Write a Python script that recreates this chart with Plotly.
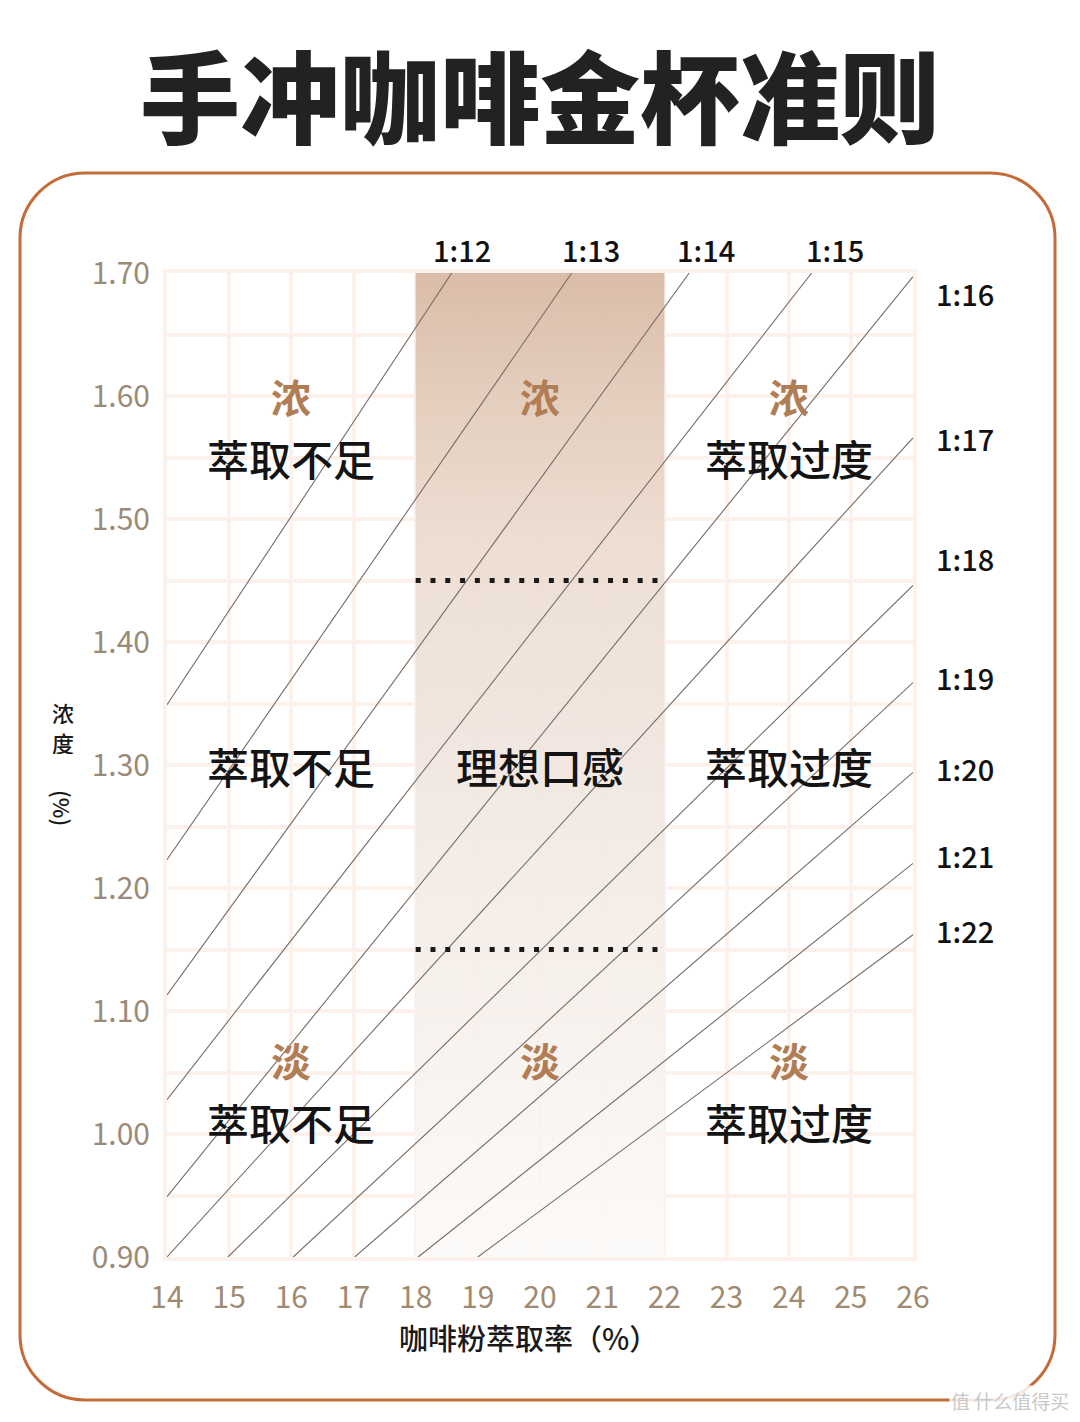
import plotly.graph_objects as go

# ---------------- data ----------------
x_ticks = [14, 15, 16, 17, 18, 19, 20, 21, 22, 23, 24, 25, 26]
y_ticks = [0.90, 1.00, 1.10, 1.20, 1.30, 1.40, 1.50, 1.60, 1.70]

ratio_labels = ["1:12", "1:13", "1:14", "1:15", "1:16", "1:17",
                "1:18", "1:19", "1:20", "1:21", "1:22"]
line_start_ey = [14, 14, 14, 14, 14, 14, 14.98, 16.03, 17.02, 18.04, 19.0]
line_start_tds = [1.349, 1.223, 1.113, 1.028, 0.949, 0.90, 0.90, 0.90, 0.90, 0.90, 0.90]
line_end_ey = [18.58, 20.51, 22.40, 24.37, 26, 26, 26, 26, 26, 26, 26]
line_end_tds = [1.70, 1.70, 1.70, 1.70, 1.697, 1.566, 1.446, 1.367, 1.294, 1.220, 1.162]

ideal_ey = [18, 22]          # extraction band
ideal_tds = [1.15, 1.45]     # strength band

zone_ey = [16, 20, 24]
zone_top_tds = [1.60, 1.55]
zone_mid_tds = 1.30
zone_bot_tds = [1.06, 1.01]

# ---------------- layout constants ----------------
WIN_W, WIN_H = 1080, 1422
OFF = 8                      # page body margin
L, R, T, B = 167, 913, 273, 1257
PW, PH = R - L, B - T
CJK = "Noto Sans CJK SC"


def paper(px, py):
    return (px - L) / PW, (B - py) / PH


fig = go.Figure()

# gradient band
fig.add_trace(go.Scatter(
    x=[ideal_ey[0], ideal_ey[1], ideal_ey[1], ideal_ey[0], ideal_ey[0]],
    y=[y_ticks[0], y_ticks[0], y_ticks[-1], y_ticks[-1], y_ticks[0]],
    mode="none", fill="toself", hoverinfo="skip", showlegend=False,
    fillgradient=dict(
        type="vertical", start=y_ticks[0], stop=y_ticks[-1],
        colorscale=[[0, "rgba(252,250,248,0.9)"], [0.3, "rgba(245,238,233,0.9)"],
                    [0.55, "rgba(239,228,220,0.92)"], [0.72, "rgba(236,220,208,0.92)"],
                    [0.87, "rgba(227,204,187,0.95)"], [1, "rgba(217,187,166,0.97)"]],
    ),
))

# ratio lines
for i in range(len(ratio_labels)):
    fig.add_trace(go.Scatter(
        x=[line_start_ey[i], line_end_ey[i]], y=[line_start_tds[i], line_end_tds[i]],
        mode="lines", line=dict(color="#776c66", width=1.1),
        hoverinfo="skip", showlegend=False,
    ))

# dotted band borders
for t in ideal_tds:
    fig.add_trace(go.Scatter(
        x=ideal_ey, y=[t, t], mode="lines",
        line=dict(color="#1a1a1a", width=5, dash="5px,9.8px"),
        hoverinfo="skip", showlegend=False,
    ))

ann = []
# ratio labels
right_yshift = {"1:16": -16, "1:17": 0, "1:18": 27, "1:19": 6, "1:20": 4, "1:21": 8, "1:22": 5}
top_xshift = {"1:12": 10, "1:13": 19, "1:14": 17, "1:15": 23}
for i, lab in enumerate(ratio_labels):
    if lab in top_xshift:
        ann.append(dict(x=line_end_ey[i], y=line_end_tds[i], xref="x", yref="y", text=lab,
                        showarrow=False, xshift=top_xshift[lab], yshift=24,
                        font=dict(family=CJK, size=29, color="#111111", weight=500)))
    else:
        ann.append(dict(x=line_end_ey[i], y=line_end_tds[i], xref="x", yref="y", text=lab,
                        showarrow=False, xshift=52, yshift=right_yshift[lab],
                        font=dict(family=CJK, size=29, color="#111111", weight=500)))

# zone texts
strong_c = "#b07d55"
for j, ex in enumerate(zone_ey):
    ann.append(dict(x=ex, y=zone_top_tds[0], text="浓", showarrow=False,
                    font=dict(family=CJK, size=40, color=strong_c, weight=700)))
    ann.append(dict(x=ex, y=zone_bot_tds[0], text="淡", showarrow=False,
                    font=dict(family=CJK, size=40, color=strong_c, weight=700)))
zone_words = ["萃取不足", "理想口感", "萃取过度"]
for j, ex in enumerate(zone_ey):
    if j != 1:
        ann.append(dict(x=ex, y=zone_top_tds[1], text=zone_words[j], showarrow=False,
                        font=dict(family=CJK, size=42, color="#141414", weight=500)))
        ann.append(dict(x=ex, y=zone_bot_tds[1], text=zone_words[j], showarrow=False,
                        font=dict(family=CJK, size=42, color="#141414", weight=500)))
    ann.append(dict(x=ex, y=zone_mid_tds, text=zone_words[j], showarrow=False,
                    font=dict(family=CJK, size=42, color="#141414", weight=500)))


def pann(px, py, text, font, **kw):
    a, b = paper(px, py)
    d = dict(x=a, y=b, xref="paper", yref="paper", text=text, showarrow=False,
             xanchor="center", yanchor="middle", font=font)
    d.update(kw)
    ann.append(d)


# title
pann(540, 92, "手冲咖啡金杯准则", dict(family=CJK, size=100, color="#222222", weight=900))
# axis titles
pann(528, 1337, "咖啡粉萃取率（%）", dict(family=CJK, size=29, color="#1a1a1a", weight=500))
pann(63, 712, "浓", dict(family=CJK, size=22, color="#1a1a1a", weight=500), height=24)
pann(63, 742, "度", dict(family=CJK, size=22, color="#1a1a1a", weight=500), height=24)
pann(63, 808, "(%)", dict(family=CJK, size=22, color="#1a1a1a", weight=500), textangle=90)
# watermark
pann(1010, 1400, "值 什么值得买", dict(family=CJK, size=19, color="#c9c9c9"),
     bgcolor="rgba(255,255,255,0.85)")

# rounded border
bl, br_, bt, bb, r = 20, 1055, 173, 1400, 65
k = 0.55 * r


def P(px, py):
    a, b = paper(px, py)
    return f"{a:.5f},{b:.5f}"


path = (f"M {P(bl + r, bt)} L {P(br_ - r, bt)} C {P(br_ - r + k, bt)} {P(br_, bt + r - k)} {P(br_, bt + r)} "
        f"L {P(br_, bb - r)} C {P(br_, bb - r + k)} {P(br_ - r + k, bb)} {P(br_ - r, bb)} "
        f"L {P(bl + r, bb)} C {P(bl + r - k, bb)} {P(bl, bb - r + k)} {P(bl, bb - r)} "
        f"L {P(bl, bt + r)} C {P(bl, bt + r - k)} {P(bl + r - k, bt)} {P(bl + r, bt)} Z")

GRID = "#fdf1ec"
fig.update_layout(
    width=WIN_W - OFF, height=WIN_H - OFF,
    margin=dict(l=L - OFF, r=WIN_W - R, t=T - OFF, b=WIN_H - B),
    paper_bgcolor="white", plot_bgcolor="white",
    showlegend=False,
    annotations=ann,
    shapes=[dict(type="path", xref="paper", yref="paper", path=path,
                 line=dict(color="#c46b3a", width=3), layer="below")],
    xaxis=dict(range=[x_ticks[0], x_ticks[-1]], tickvals=x_ticks,
               showgrid=True, gridcolor=GRID, gridwidth=4,
               zeroline=False, showline=True, mirror=True, linecolor=GRID, linewidth=4,
               ticks="outside", ticklen=11, tickcolor="rgba(0,0,0,0)",
               tickfont=dict(family=CJK, size=30, color="#a08a72")),
    yaxis=dict(range=[y_ticks[0], y_ticks[-1]], tickvals=y_ticks,
               tickformat=".2f",
               showgrid=True, gridcolor=GRID, gridwidth=4,
               minor=dict(dtick=0.05, tick0=0.9, showgrid=True, gridcolor=GRID, gridwidth=4),
               zeroline=False, showline=True, mirror=True, linecolor=GRID, linewidth=4,
               ticks="outside", ticklen=7, tickcolor="rgba(0,0,0,0)",
               tickfont=dict(family=CJK, size=30, color="#9c8a78")),
)

fig.write_html("out.html")
